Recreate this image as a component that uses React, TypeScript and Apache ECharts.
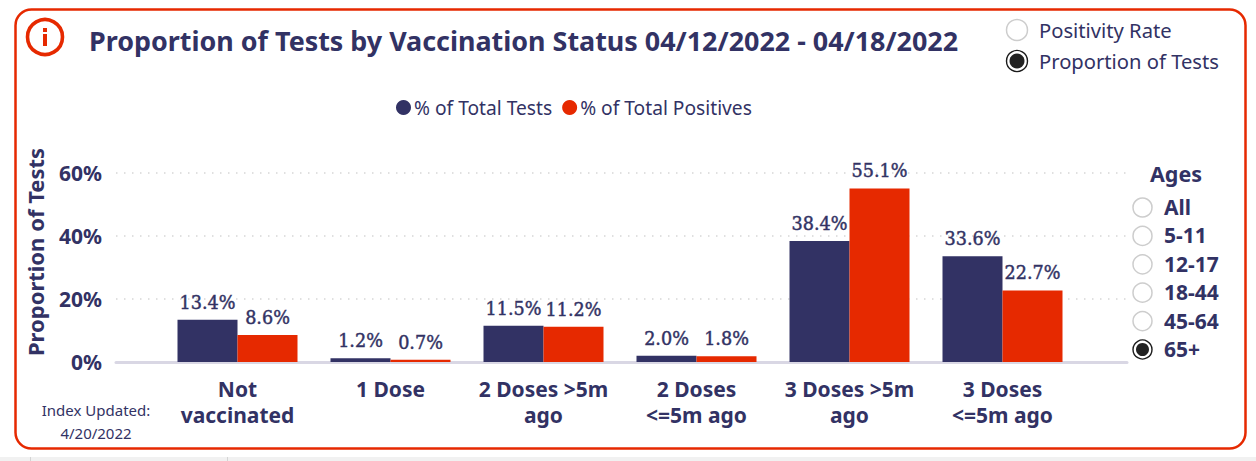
import React, { useEffect, useRef } from "react";
import * as echarts from "echarts";

const categories = ["Not\nvaccinated", "1 Dose", "2 Doses >5m\nago", "2 Doses\n<=5m ago", "3 Doses >5m\nago", "3 Doses\n<=5m ago"];
const totalTests = [13.4, 1.2, 11.5, 2.0, 38.4, 33.6];
const totalPositives = [8.6, 0.7, 11.2, 1.8, 55.1, 22.7];
const yTicks = [0, 20, 40, 60];
const ageOptions = ["All", "5-11", "12-17", "18-44", "45-64", "65+"];
const selectedAge = "65+";
const metricOptions = ["Positivity Rate", "Proportion of Tests"];
const selectedMetric = "Proportion of Tests";
const chartTitle = "Proportion of Tests by Vaccination Status 04/12/2022 - 04/18/2022";
const axisTitle = "Proportion of Tests";
const updatedLines = ["Index Updated:", "4/20/2022"];

const NAVY = "#323264";
const RED = "#e62900";
const FONT = "'Noto Sans', 'Open Sans', sans-serif";
const LABEL_FONT = "'DejaVu Serif', serif";

function radio(cx: number, cy: number, r: number, on: boolean) {
  const items: any[] = [];
  if (on) {
    items.push({ type: "circle", shape: { cx, cy, r }, style: { fill: "#fff", stroke: "#1a1a1a", lineWidth: 1.4 } });
    items.push({ type: "circle", shape: { cx, cy, r: r - 3 }, style: { fill: "#222222" } });
  } else {
    items.push({ type: "circle", shape: { cx, cy, r }, style: { fill: "#fff", stroke: "#cdcdcd", lineWidth: 1.5 } });
  }
  return items;
}

export default function App() {
  const ref = useRef<HTMLDivElement>(null);
  useEffect(() => {
    const chart = echarts.init(ref.current!, undefined, { renderer: "svg" });
    const barLabel = {
      show: true,
      position: "top" as const,
      distance: 8,
      formatter: (p: any) => `${p.value.toFixed(1)}%`,
      fontFamily: LABEL_FONT,
      fontSize: 17.6,
      fontWeight: 400 as const,
      color: NAVY,
      textBorderColor: NAVY,
      textBorderWidth: 0.45,
    };
    const graphic: any[] = [
      { type: "rect", shape: { x: 0, y: 457, width: 1256, height: 4 }, style: { fill: "#f1f1f1" } },
      { type: "rect", shape: { x: 30, y: 457, width: 1, height: 4 }, style: { fill: "#d4d4d4" } },
      { type: "rect", shape: { x: 227, y: 457, width: 1, height: 4 }, style: { fill: "#d4d4d4" } },
      { type: "rect", z: -1, shape: { x: 15.5, y: 9.5, width: 1230, height: 439, r: 16 }, style: { fill: "#fff", stroke: RED, lineWidth: 2.5 } },
      { type: "circle", shape: { cx: 45, cy: 37, r: 17.5 }, style: { fill: "#fff", stroke: RED, lineWidth: 3.6 } },
      { type: "rect", shape: { x: 43, y: 34, width: 4, height: 12 }, style: { fill: RED } },
      { type: "rect", shape: { x: 43, y: 28, width: 4, height: 4 }, style: { fill: RED } },
      { type: "text", x: 89, y: 40, style: { text: chartTitle, fill: NAVY, font: `700 26.9px ${FONT}`, textVerticalAlign: "middle" } },
      { type: "text", x: 96, y: 410, style: { text: updatedLines[0], fill: NAVY, font: `15px ${FONT}`, textAlign: "center", textVerticalAlign: "middle" } },
      { type: "text", x: 96, y: 433, style: { text: updatedLines[1], fill: NAVY, font: `15px ${FONT}`, textAlign: "center", textVerticalAlign: "middle" } },
      { type: "text", x: 1176, y: 173, style: { text: "Ages", fill: NAVY, font: `700 21.5px ${FONT}`, textAlign: "center", textVerticalAlign: "middle" } },
      { type: "text", x: 35, y: 252, rotation: Math.PI / 2, style: { text: axisTitle, fill: NAVY, font: `700 22px ${FONT}`, textAlign: "center", textVerticalAlign: "middle" } },
    ];
    metricOptions.forEach((m, i) => {
      const cy = 30 + i * 31;
      graphic.push(...radio(1017, cy, 10.5, m === selectedMetric));
      graphic.push({ type: "text", x: 1039, y: cy, style: { text: m, fill: NAVY, font: `20.2px ${FONT}`, textVerticalAlign: "middle" } });
    });
    ageOptions.forEach((a, i) => {
      const cy = 207.5 + i * 28.4;
      graphic.push(...radio(1142.5, cy, 9.5, a === selectedAge));
      graphic.push({ type: "text", x: 1164, y: cy - 0.5, style: { text: a, fill: NAVY, font: `700 21px ${FONT}`, textVerticalAlign: "middle" } });
    });

    chart.setOption({
      animation: false,
      backgroundColor: "#fff",
      legend: {
        top: 93,
        left: 391,
        icon: "circle",
        itemWidth: 15,
        itemHeight: 15,
        itemGap: 10,
        selectedMode: false,
        textStyle: { color: NAVY, fontFamily: FONT, fontSize: 19.2, padding: [0, 0, 0, -2] },
        data: ["% of Total Tests", "% of Total Positives"],
      },
      grid: [
        { left: 116, top: 173, width: 1011, height: 189 },
        { left: 161, top: 173, width: 918, height: 189 },
      ],
      xAxis: [
        {
          gridIndex: 0,
          type: "value",
          min: 0,
          max: 1,
          axisLabel: { show: false },
          axisTick: { show: false },
          splitLine: { show: false },
          axisLine: { show: true, lineStyle: { color: "#d9d7e4", width: 3 } },
        },
        {
          gridIndex: 1,
          type: "category",
          data: categories,
          axisLine: { show: false },
          axisTick: { show: false },
          axisLabel: {
            color: NAVY,
            fontFamily: FONT,
            fontWeight: 700,
            fontSize: 21,
            lineHeight: 26,
            margin: 13.5,
            interval: 0,
          },
        },
      ],
      yAxis: [
        {
          gridIndex: 0,
          type: "value",
          min: yTicks[0],
          max: yTicks[yTicks.length - 1],
          interval: 20,
          axisLine: { show: false },
          axisTick: { show: false },
          axisLabel: { color: NAVY, fontFamily: FONT, fontWeight: 700, fontSize: 21, margin: 14, formatter: "{value}%" },
          splitLine: { show: true, lineStyle: { color: "#d6d6d6", type: [1.5, 6.5], width: 1.5 } },
        },
        {
          gridIndex: 1,
          type: "value",
          min: yTicks[0],
          max: yTicks[yTicks.length - 1],
          interval: 20,
          show: false,
          splitLine: { show: false },
        },
      ],
      series: [
        {
          name: "% of Total Tests",
          type: "bar",
          xAxisIndex: 1,
          yAxisIndex: 1,
          data: totalTests,
          barWidth: 60,
          barGap: "0%",
          itemStyle: { color: NAVY },
          label: barLabel,
        },
        {
          name: "% of Total Positives",
          type: "bar",
          xAxisIndex: 1,
          yAxisIndex: 1,
          data: totalPositives,
          barWidth: 60,
          barGap: "0%",
          itemStyle: { color: RED },
          label: barLabel,
        },
      ],
      graphic,
    });
    return () => chart.dispose();
  }, []);
  return <div ref={ref} style={{ position: "absolute", left: 0, top: 0, width: 1256, height: 461 }} />;
}
